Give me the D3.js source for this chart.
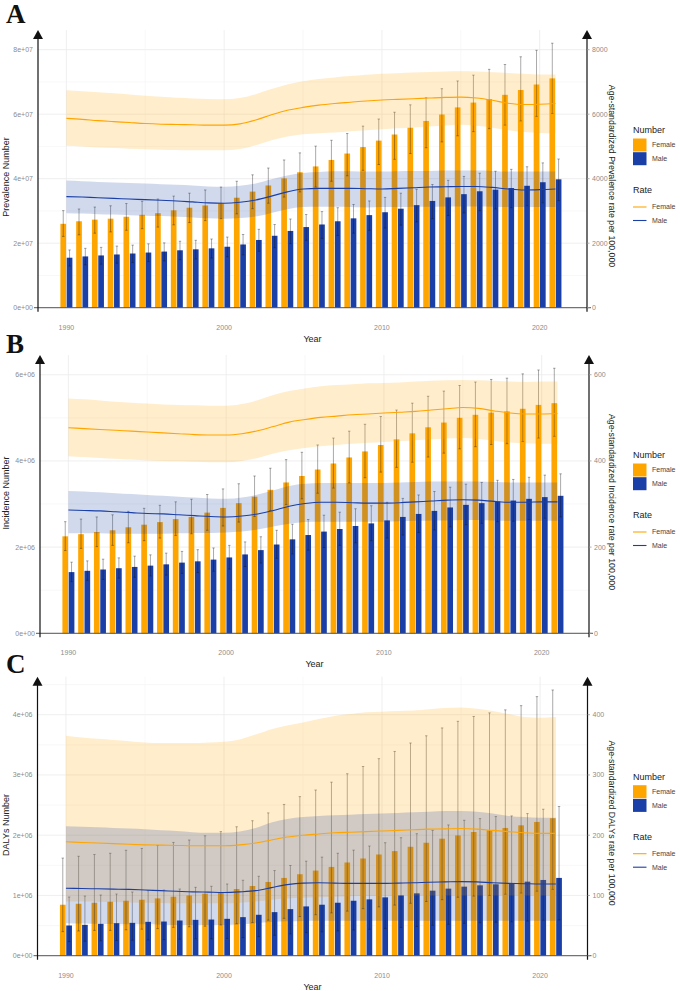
<!DOCTYPE html>
<html lang="en">
<head>
<meta charset="UTF-8">
<script src="https://cdn.jsdelivr.net/npm/d3@7"></script>
<title>Prevalence, incidence and DALYs by sex, 1990-2021</title>
<style>
  html, body { margin: 0; padding: 0; background: #fff; }
  svg { display: block; font-family: "Liberation Sans", Arial, sans-serif; }
</style>
</head>
<body>
<div id="chart"></div>
<script>
// ---- data (numbers in millions, rates per 100,000) ----
const years = [1990,1991,1992,1993,1994,1995,1996,1997,1998,1999,2000,2001,2002,2003,2004,2005,
               2006,2007,2008,2009,2010,2011,2012,2013,2014,2015,2016,2017,2018,2019,2020,2021];
const sexes = ["Female", "Male"];
const yearTicks = [1990, 2000, 2010, 2020];

// A: prevalence
const prevFemale     = [26.0,26.8,27.3,27.6,28.2,28.8,29.3,30.2,31.0,31.7,32.4,34.1,36.0,37.9,40.1,42.0,43.8,45.8,47.8,49.8,51.8,53.7,55.8,57.9,59.9,62.1,63.6,64.7,66.0,67.5,69.2,71.1];
const prevFemaleHigh = [30.1,30.6,31.2,31.6,32.3,33.0,33.7,34.6,35.5,36.5,37.4,39.2,41.2,43.3,45.8,48.0,50.1,51.9,54.0,56.3,58.5,60.6,62.9,65.1,67.9,70.3,72.1,73.9,75.4,77.8,79.8,82.0];
const prevFemaleLow  = [22.1,22.6,23.1,23.5,24.0,24.5,25.0,25.7,26.4,27.0,27.6,29.1,30.7,32.4,34.3,35.9,37.4,39.2,40.9,42.6,44.4,46.0,47.8,49.6,51.4,53.3,54.6,55.5,56.6,57.9,59.3,60.2];
const prevMale       = [15.5,15.9,16.2,16.5,16.8,17.1,17.4,17.8,18.1,18.4,18.9,19.6,21.0,22.3,23.8,25.0,25.8,26.8,27.7,28.7,29.6,30.7,31.8,33.1,34.2,35.2,36.1,36.6,37.1,37.8,38.9,39.8];
const prevMaleHigh   = [17.9,18.4,18.7,19.1,19.4,19.8,20.1,20.6,20.9,21.3,21.9,22.7,24.3,25.8,27.5,28.9,29.8,31.0,32.0,33.1,34.2,35.5,36.7,38.2,39.5,40.7,41.7,42.3,42.9,43.7,44.9,46.1];
const prevMaleLow    = [12.9,13.3,13.5,13.8,14.0,14.3,14.5,14.9,15.1,15.4,15.8,16.4,17.5,18.6,19.9,20.9,21.5,22.4,23.1,24.0,24.7,25.6,26.6,27.6,28.6,29.4,30.1,30.6,31.0,31.6,32.5,33.2];
const prevRateFemale     = [5870,5840,5800,5770,5740,5710,5690,5680,5670,5660,5660,5700,5820,5980,6120,6210,6280,6330,6370,6410,6440,6460,6480,6500,6520,6530,6500,6430,6340,6300,6310,6330];
const prevRateFemaleHigh = [6740,6710,6680,6650,6610,6570,6540,6510,6490,6470,6460,6500,6620,6780,6920,7020,7090,7140,7180,7220,7250,7270,7290,7310,7320,7330,7320,7300,7280,7250,7230,7230];
const prevRateFemaleLow  = [5020,5000,4970,4950,4930,4910,4900,4890,4880,4880,4880,4920,5040,5190,5310,5380,5410,5430,5470,5500,5530,5560,5590,5620,5650,5670,5640,5580,5500,5450,5420,5410];
const prevRateMale       = [3445,3430,3410,3390,3370,3350,3330,3310,3280,3250,3240,3270,3340,3460,3590,3680,3700,3700,3700,3690,3680,3700,3720,3740,3750,3760,3760,3730,3680,3650,3660,3680];
const prevRateMaleHigh   = [3940,3920,3900,3880,3870,3850,3830,3810,3790,3760,3750,3780,3850,3980,4100,4180,4210,4230,4230,4220,4220,4230,4240,4240,4250,4250,4250,4240,4220,4220,4220,4220];
const prevRateMaleLow    = [2930,2920,2900,2890,2870,2850,2840,2820,2800,2770,2760,2780,2830,2940,3050,3120,3130,3130,3120,3110,3120,3120,3130,3130,3140,3140,3140,3130,3120,3120,3120,3120];
const prevTicks     = [0, 2e7, 4e7, 6e7, 8e7];
const prevRateTicks = [0, 2000, 4000, 6000, 8000];

// B: incidence
const incFemale     = [2.25,2.30,2.35,2.39,2.46,2.52,2.58,2.65,2.70,2.80,2.91,3.02,3.17,3.33,3.50,3.65,3.80,3.94,4.08,4.22,4.37,4.50,4.64,4.78,4.89,5.00,5.07,5.12,5.15,5.21,5.30,5.34];
const incFemaleHigh = [2.59,2.65,2.70,2.75,2.83,2.90,2.97,3.05,3.11,3.22,3.35,3.47,3.65,3.83,4.03,4.20,4.37,4.53,4.69,4.85,5.03,5.18,5.34,5.50,5.62,5.75,5.83,5.89,5.92,6.02,6.11,6.15];
const incFemaleLow  = [1.92,1.97,2.01,2.04,2.10,2.15,2.21,2.27,2.31,2.39,2.49,2.58,2.71,2.85,2.99,3.12,3.25,3.37,3.49,3.61,3.74,3.85,3.97,4.09,4.18,4.28,4.33,4.38,4.40,4.45,4.53,4.57];
const incMale       = [1.42,1.45,1.48,1.51,1.54,1.57,1.60,1.64,1.67,1.71,1.76,1.83,1.93,2.06,2.18,2.28,2.36,2.42,2.49,2.55,2.62,2.70,2.77,2.84,2.92,2.98,3.02,3.06,3.08,3.12,3.16,3.19];
const incMaleHigh   = [1.65,1.68,1.72,1.75,1.79,1.82,1.86,1.90,1.94,1.98,2.04,2.12,2.24,2.39,2.53,2.64,2.74,2.81,2.89,2.96,3.04,3.13,3.21,3.29,3.39,3.46,3.50,3.55,3.57,3.62,3.67,3.70];
const incMaleLow    = [1.20,1.23,1.25,1.28,1.30,1.33,1.35,1.39,1.41,1.44,1.49,1.55,1.63,1.74,1.84,1.93,1.99,2.04,2.10,2.15,2.21,2.28,2.34,2.40,2.47,2.52,2.55,2.59,2.60,2.64,2.67,2.70];
const incRateFemale     = [477,475,473,471,469,467,465,463,461,460,460,463,470,480,490,496,501,504,507,509,511,513,515,518,521,524,522,516,511,509,509,510];
const incRateFemaleHigh = [545,543,540,537,535,533,531,530,529,528,528,532,541,553,562,568,573,576,578,580,581,582,584,586,587,588,587,586,584,583,584,584];
const incRateFemaleLow  = [411,409,407,405,403,401,400,399,398,397,397,400,407,417,425,430,434,437,440,442,444,446,448,450,452,453,451,447,443,441,440,440];
const incRateMale       = [286,285,284,282,280,278,277,275,273,271,270,272,277,285,295,301,304,304,303,302,302,303,305,307,309,310,309,306,304,304,305,305];
const incRateMaleHigh   = [330,329,327,325,323,321,319,317,315,313,312,315,322,332,342,347,349,349,349,349,349,350,351,352,352,352,352,351,350,350,350,350];
const incRateMaleLow    = [232,232,232,231,231,231,231,232,233,233,234,236,241,248,254,258,259,259,259,259,259,260,261,262,262,263,263,262,261,261,261,261];
const incTicks     = [0, 2e6, 4e6, 6e6];
const incRateTicks = [0, 200, 400, 600];

// C: DALYs
const dalyFemale     = [0.846,0.862,0.879,0.896,0.912,0.929,0.951,0.979,1.001,1.029,1.050,1.107,1.157,1.224,1.291,1.352,1.413,1.474,1.547,1.613,1.680,1.736,1.808,1.875,1.942,1.997,2.053,2.081,2.120,2.164,2.220,2.281];
const dalyFemaleHigh = [1.62,1.65,1.68,1.70,1.75,1.78,1.83,1.88,1.92,1.99,2.06,2.14,2.24,2.37,2.51,2.64,2.75,2.88,3.02,3.14,3.27,3.39,3.53,3.65,3.78,3.89,3.97,4.03,4.08,4.15,4.30,4.41];
const dalyFemaleLow  = [0.40,0.41,0.42,0.42,0.43,0.44,0.45,0.47,0.48,0.49,0.51,0.53,0.55,0.59,0.62,0.65,0.68,0.71,0.74,0.78,0.81,0.84,0.87,0.90,0.93,0.97,0.99,1.00,1.02,1.04,1.07,1.10];
const dalyMale       = [0.501,0.512,0.529,0.540,0.545,0.562,0.567,0.584,0.595,0.600,0.612,0.640,0.679,0.723,0.773,0.818,0.846,0.879,0.912,0.935,0.968,1.001,1.035,1.079,1.113,1.146,1.168,1.185,1.202,1.229,1.257,1.291];
const dalyMaleHigh   = [0.974,0.990,1.007,1.024,1.057,1.079,1.090,1.107,1.135,1.152,1.190,1.252,1.318,1.413,1.497,1.569,1.636,1.700,1.752,1.820,1.875,1.958,2.025,2.081,2.170,2.248,2.275,2.309,2.320,2.359,2.431,2.476];
const dalyMaleLow    = [0.234,0.240,0.248,0.253,0.256,0.263,0.266,0.274,0.279,0.281,0.287,0.300,0.318,0.339,0.362,0.383,0.396,0.412,0.427,0.438,0.453,0.469,0.485,0.505,0.521,0.537,0.547,0.555,0.563,0.576,0.589,0.595];
const dalyRateFemale     = [189,188,187,186,185,184,183.5,183,182.5,182.5,182.5,184,187,192,197,200,202,204,205,206,207,208,209,210,210.5,211,210,208,206,204,203,203];
const dalyRateFemaleHigh = [365,362,360,358,356,354,353,353,353,354,355,359,367,376,382,387,393,398,401,404,405,406,407,409,411,412,410,406,401,396,395,396];
const dalyRateFemaleLow  = [90,90,89.5,89,88.5,88,87.5,87,87,87,87,88,90,93,95,96,97,98,98.5,99,99,99.5,100,100,100,100,100,100,100,100,100,100];
const dalyRateMale       = [112,111.5,111,110.5,110,109,108,107,106,105.5,105,106,108,113,118,120.5,121,120.5,120,120,120,120.5,121,122,122.5,123,122.5,121,120,119.5,119,119];
const dalyRateMaleHigh   = [215,214,213,212,211,210,208,207,205,204,204,206,212,221,227,230,232,233,234,235,236,237,238,239,240,240,239,236,232,230,229,229];
const dalyRateMaleLow    = [54,53.5,53,52.5,52,52,51.5,51,51,51,51,52,54,56,57,57.5,58,58,58,58,58,58,58,58,58,58,58,58,58,58,58,58];
const dalyTicks     = [0, 1e6, 2e6, 3e6, 4e6];
const dalyRateTicks = [0, 100, 200, 300, 400];

// ---- layout ----
const W = 680, H = 991;
const colour = { Female: "#FFA500", Male: "#1A3FA6" };
const panels = [
  { letter: "A", letterY: 23, top: 30, zero: 307.7, left: 38, right: 587,
    numTitle: "Prevalence Number", rateTitle: "Age-standardized Prevalence rate per 100,000",
    leftTitleY: 177, rightTitleY: 176, numTicks: prevTicks, rateTicks: prevRateTicks,
    num: { Female: [prevFemale, prevFemaleLow, prevFemaleHigh], Male: [prevMale, prevMaleLow, prevMaleHigh] },
    rate: { Female: [prevRateFemale, prevRateFemaleLow, prevRateFemaleHigh], Male: [prevRateMale, prevRateMaleLow, prevRateMaleHigh] } },
  { letter: "B", letterY: 353, top: 355, zero: 633.3, left: 40, right: 589,
    numTitle: "Incidence Number", rateTitle: "Age-standardized Incidence rate per 100,000",
    leftTitleY: 493, rightTitleY: 502, numTicks: incTicks, rateTicks: incRateTicks,
    num: { Female: [incFemale, incFemaleLow, incFemaleHigh], Male: [incMale, incMaleLow, incMaleHigh] },
    rate: { Female: [incRateFemale, incRateFemaleLow, incRateFemaleHigh], Male: [incRateMale, incRateMaleLow, incRateMaleHigh] } },
  { letter: "C", letterY: 673, top: 676.7, zero: 955.7, left: 37.5, right: 587.5,
    numTitle: "DALYs Number", rateTitle: "Age-standardized DALYs rate per 100,000",
    leftTitleY: 825, rightTitleY: 823, numTicks: dalyTicks, rateTicks: dalyRateTicks,
    num: { Female: [dalyFemale, dalyFemaleLow, dalyFemaleHigh], Male: [dalyMale, dalyMaleLow, dalyMaleHigh] },
    rate: { Female: [dalyRateFemale, dalyRateFemaleLow, dalyRateFemaleHigh], Male: [dalyRateMale, dalyRateMaleLow, dalyRateMaleHigh] } }
];

// 8e+07 style labels like R
function sci(v) {
  if (v === 0) return "0e+00";
  const e = Math.floor(Math.log10(v));
  const m = Math.round(v / Math.pow(10, e));
  return m + "e+" + String(e).padStart(2, "0");
}

const svg = d3.select("#chart").append("svg").attr("width", W).attr("height", H);

panels.forEach(p => {
  const g = svg.append("g");
  const x = d3.scaleLinear().domain([1988.2, 2023.0]).range([p.left, p.right]);
  const yMax = d3.max(p.num.Female[2].concat(p.num.Male[2])) * 1e6 * 1.05;
  const y = d3.scaleLinear().domain([0, yMax]).range([p.zero, p.top]);
  const yRate = d3.scaleLinear().domain([0, yMax / 1e4]).range([p.zero, p.top]);

  // grid
  const step = p.numTicks[1] - p.numTicks[0];
  const minor = p.numTicks.map(t => t + step / 2).filter(t => t < yMax);
  g.selectAll(".hminor").data(minor).join("line")
    .attr("x1", p.left).attr("x2", p.right)
    .attr("y1", d => y(d)).attr("y2", d => y(d))
    .attr("stroke", "#f3f3f3").attr("stroke-width", 0.6);
  g.selectAll(".hmajor").data(p.numTicks).join("line")
    .attr("x1", p.left).attr("x2", p.right)
    .attr("y1", d => y(d)).attr("y2", d => y(d))
    .attr("stroke", "#ebebeb").attr("stroke-width", 0.8);
  g.selectAll(".vminor").data(yearTicks.slice(0, 3).map(t => t + 5)).join("line")
    .attr("x1", d => x(d)).attr("x2", d => x(d))
    .attr("y1", p.top).attr("y2", p.zero)
    .attr("stroke", "#f3f3f3").attr("stroke-width", 0.6);
  g.selectAll(".vmajor").data(yearTicks).join("line")
    .attr("x1", d => x(d)).attr("x2", d => x(d))
    .attr("y1", p.top).attr("y2", p.zero)
    .attr("stroke", "#ebebeb").attr("stroke-width", 0.8);

  // bars + error bars
  const off = { Female: -0.2, Male: 0.2 };
  const bw = 0.36;
  sexes.forEach(s => {
    const [val, lo, hi] = p.num[s];
    const rows = years.map((yr, i) => ({ yr, v: val[i] * 1e6, lo: lo[i] * 1e6, hi: hi[i] * 1e6 }));
    g.append("g").selectAll("rect").data(rows).join("rect")
      .attr("x", d => x(d.yr + off[s] - bw / 2))
      .attr("width", x(bw) - x(0))
      .attr("y", d => y(d.v))
      .attr("height", d => y(0) - y(d.v))
      .attr("fill", colour[s]);
    const eb = g.append("g").attr("stroke", "#111").attr("stroke-opacity", 0.6).attr("stroke-width", 0.6);
    eb.selectAll(".v").data(rows).join("line")
      .attr("x1", d => x(d.yr + off[s])).attr("x2", d => x(d.yr + off[s]))
      .attr("y1", d => y(d.lo)).attr("y2", d => y(d.hi));
    ["lo", "hi"].forEach(k => {
      eb.selectAll(".c" + k).data(rows).join("line")
        .attr("x1", d => x(d.yr + off[s]) - 1.2).attr("x2", d => x(d.yr + off[s]) + 1.2)
        .attr("y1", d => y(d[k])).attr("y2", d => y(d[k]));
    });
  });

  // ribbons and rate lines
  sexes.forEach(s => {
    const [val, lo, hi] = p.rate[s];
    const area = d3.area().curve(d3.curveMonotoneX)
      .x((d, i) => x(years[i])).y0((d, i) => yRate(lo[i])).y1((d, i) => yRate(hi[i]));
    g.append("path").datum(val).attr("d", area)
      .attr("fill", colour[s]).attr("fill-opacity", 0.2);
  });
  sexes.forEach(s => {
    const val = p.rate[s][0];
    const line = d3.line().curve(d3.curveMonotoneX)
      .x((d, i) => x(years[i])).y(d => yRate(d));
    g.append("path").datum(val).attr("d", line)
      .attr("fill", "none").attr("stroke", colour[s]).attr("stroke-width", 1.1);
  });

  // axes
  g.append("line").attr("x1", p.left - 4).attr("x2", p.right + 4)
    .attr("y1", p.zero).attr("y2", p.zero).attr("stroke", "#555").attr("stroke-width", 1);
  [p.left, p.right].forEach(ax => {
    g.append("line").attr("x1", ax).attr("x2", ax)
      .attr("y1", p.zero + 4).attr("y2", p.top + 8)
      .attr("stroke", "#111").attr("stroke-width", 1.2);
    g.append("path")
      .attr("d", `M${ax - 5},${p.top + 9}L${ax},${p.top}L${ax + 5},${p.top + 9}Z`)
      .attr("fill", "#111");
  });

  const tickFont = 7, tickCol = "#8c8c8c";
  g.selectAll(".lt").data(p.numTicks).join("text")
    .attr("x", p.left - 5).attr("y", d => y(d)).attr("dy", "0.35em")
    .attr("text-anchor", "end").attr("font-size", tickFont).attr("fill", tickCol)
    .text(sci);
  g.selectAll(".rtk").data(p.rateTicks).join("line")
    .attr("x1", p.right).attr("x2", p.right + 2.5)
    .attr("y1", d => yRate(d)).attr("y2", d => yRate(d))
    .attr("stroke", "#999").attr("stroke-width", 0.8);
  g.selectAll(".rt").data(p.rateTicks).join("text")
    .attr("x", p.right + 5).attr("y", d => yRate(d)).attr("dy", "0.35em")
    .attr("text-anchor", "start").attr("font-size", tickFont).attr("fill", tickCol)
    .text(d => d);
  g.selectAll(".xt").data(yearTicks).join("text")
    .attr("x", d => x(d)).attr("y", p.zero + 22)
    .attr("text-anchor", "middle").attr("font-size", tickFont).attr("fill", tickCol)
    .text(d => d);

  // titles
  g.append("text").attr("x", (p.left + p.right) / 2).attr("y", p.zero + 34)
    .attr("text-anchor", "middle").attr("font-size", 9).attr("fill", "#222").text("Year");
  g.append("text").attr("transform", `translate(9,${p.leftTitleY}) rotate(-90)`)
    .attr("text-anchor", "middle").attr("font-size", 9).attr("fill", "#222").text(p.numTitle);
  g.append("text").attr("transform", `translate(609,${p.rightTitleY}) rotate(90)`)
    .attr("text-anchor", "middle").attr("font-size", 8.8).attr("fill", "#222").text(p.rateTitle);
  g.append("text").attr("x", 6).attr("y", p.letterY)
    .attr("font-family", "'Liberation Serif', 'Times New Roman', serif")
    .attr("font-weight", "bold").attr("font-size", 27).attr("fill", "#111").text(p.letter);

  // legend
  const lg = g.append("g").attr("transform", `translate(633,${p.top})`);
  lg.append("text").attr("x", 0).attr("y", 103).attr("font-size", 9).attr("fill", "#222").text("Number");
  lg.selectAll(".sw").data(sexes).join("rect")
    .attr("x", 0).attr("y", (d, i) => 108.5 + i * 13.7)
    .attr("width", 13.5).attr("height", 13).attr("fill", d => colour[d]);
  lg.selectAll(".swl").data(sexes).join("text")
    .attr("x", 19).attr("y", (d, i) => 115 + i * 13.7).attr("dy", "0.35em")
    .attr("font-size", 7).attr("fill", "#444").text(d => d);
  lg.append("text").attr("x", 0).attr("y", 163).attr("font-size", 9).attr("fill", "#222").text("Rate");
  lg.selectAll(".ln").data(sexes).join("line")
    .attr("x1", 0).attr("x2", 13.5)
    .attr("y1", (d, i) => 177 + i * 13.5).attr("y2", (d, i) => 177 + i * 13.5)
    .attr("stroke", d => colour[d]).attr("stroke-width", 1.1);
  lg.selectAll(".lnl").data(sexes).join("text")
    .attr("x", 19).attr("y", (d, i) => 177 + i * 13.5).attr("dy", "0.35em")
    .attr("font-size", 7).attr("fill", "#444").text(d => d);
});
</script>
</body>
</html>
